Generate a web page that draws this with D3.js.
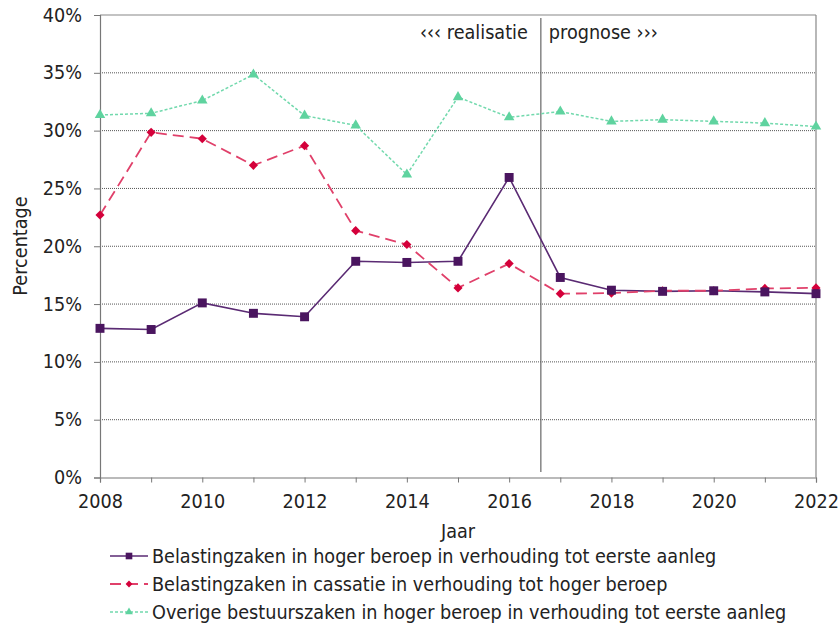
<!DOCTYPE html>
<html>
<head>
<meta charset="utf-8">
<script src="https://cdn.jsdelivr.net/npm/d3@7"></script>
<style>
  html, body { margin: 0; padding: 0; background: #fff; }
  svg text { font-family: "DejaVu Sans", sans-serif; fill: #222; }
</style>
</head>
<body>
<svg id="chart" width="840" height="624"></svg>
<script>
// Years on the x axis
const years = [2008, 2009, 2010, 2011, 2012, 2013, 2014, 2015, 2016, 2017, 2018, 2019, 2020, 2021, 2022];

// Ratios in percent
const belastingHogerBeroep = [12.9, 12.8, 15.1, 14.2, 13.9, 18.7, 18.6, 18.7, 25.95, 17.3, 16.2, 16.1, 16.15, 16.05, 15.9];
const belastingCassatie   = [22.7, 29.85, 29.3, 27.0, 28.7, 21.35, 20.15, 16.4, 18.5, 15.9, 15.95, 16.15, 16.15, 16.35, 16.4];
const overigeBestuur      = [31.35, 31.5, 32.6, 34.85, 31.3, 30.45, 26.2, 32.9, 31.15, 31.65, 30.8, 30.95, 30.8, 30.65, 30.35];

const seriesNames = [
  "Belastingzaken in hoger beroep in verhouding tot eerste aanleg",
  "Belastingzaken in cassatie in verhouding tot hoger beroep",
  "Overige bestuurszaken in hoger beroep in verhouding tot eerste aanleg"
];

const yTicks = [0, 5, 10, 15, 20, 25, 30, 35, 40];
const xTickLabels = [2008, 2010, 2012, 2014, 2016, 2018, 2020, 2022];
const splitYear = 2016.62; // boundary between realised and forecast years

const svg = d3.select("#chart");
const plotLeft = 100, plotRight = 816, plotTop = 15, plotBottom = 477.5;

const x = d3.scaleLinear().domain([2008, 2022]).range([plotLeft, plotRight]);
const y = d3.scaleLinear().domain([0, 40]).range([plotBottom, plotTop]);
const fs = 19;        // font size
const sx = 0.93;      // horizontal squeeze of the lettering

// Horizontal gridlines
svg.append("g").selectAll("line")
  .data(yTicks.filter(t => t > 0 && t < 40))
  .join("line")
  .attr("x1", plotLeft).attr("x2", plotRight)
  .attr("y1", d => y(d)).attr("y2", d => y(d))
  .attr("stroke", "#555").attr("stroke-width", 1)
  .attr("stroke-dasharray", "1,1");

// Frame: top and right borders
svg.append("line").attr("x1", plotLeft).attr("x2", plotRight).attr("y1", y(40)).attr("y2", y(40))
  .attr("stroke", "#888").attr("stroke-width", 1.2);
svg.append("line").attr("x1", plotRight).attr("x2", plotRight).attr("y1", y(40)).attr("y2", y(0))
  .attr("stroke", "#888").attr("stroke-width", 1.2);

// Y axis
const yAxis = svg.append("g").attr("transform", `translate(${plotLeft},0)`)
  .call(d3.axisLeft(y).tickValues(yTicks).tickFormat(d => d + "%").tickSize(6).tickPadding(12));
yAxis.select(".domain").attr("stroke", "#777").attr("stroke-width", 1.2);
yAxis.selectAll(".tick line").attr("stroke", "#777");
yAxis.selectAll("text").attr("font-size", fs).attr("fill", "#222")
  .attr("font-family", "DejaVu Sans, sans-serif")
  .attr("x", -18 / sx).attr("dy", "0.32em")
  .attr("transform", `scale(${sx},1)`);

// X axis
const xAxis = svg.append("g").attr("transform", `translate(0,${plotBottom})`)
  .call(d3.axisBottom(x).tickValues(years).tickFormat(d => xTickLabels.includes(d) ? d : "").tickSize(5));
xAxis.select(".domain").attr("stroke", "#777").attr("stroke-width", 1.2);
xAxis.selectAll(".tick line").attr("stroke", "#777");
xAxis.selectAll("text").attr("font-size", fs).attr("fill", "#222")
  .attr("font-family", "DejaVu Sans, sans-serif")
  .attr("y", 30.5).attr("dy", null)
  .attr("transform", `scale(${sx},1)`);

// Squeezed text helper
function label(px, py, str, anchor, rotate) {
  return svg.append("text")
    .attr("transform", `translate(${px},${py})${rotate ? " rotate(-90)" : ""} scale(${sx},1)`)
    .attr("text-anchor", anchor).attr("font-size", fs).text(str);
}

// Axis titles
label(458, 538, "Jaar", "middle");
label(27, 246, "Percentage", "middle", true);

// Realisation / forecast divider
svg.append("line").attr("x1", x(splitYear)).attr("x2", x(splitYear))
  .attr("y1", 18).attr("y2", 472).attr("stroke", "#666").attr("stroke-width", 1.2);
label(x(splitYear) - 13, 39, "‹‹‹ realisatie", "end").attr("fill", "#333");
label(x(splitYear) + 8, 39, "prognose ›››", "start").attr("fill", "#333");

// Marker shapes
const diamond = {
  draw(ctx, size) {
    const r = Math.sqrt(size / 2);
    ctx.moveTo(0, -r); ctx.lineTo(r, 0); ctx.lineTo(0, r); ctx.lineTo(-r, 0); ctx.closePath();
  }
};

// Series definitions
const series = [
  { name: seriesNames[0], values: belastingHogerBeroep, line: "#5a2a73", marker: "#4a155f", dash: null, width: 1.6, shape: d3.symbolSquare, size: 80 },
  { name: seriesNames[1], values: belastingCassatie, line: "#e0406a", marker: "#d4003a", dash: "11,6", width: 1.8, shape: diamond, size: 42 },
  { name: seriesNames[2], values: overigeBestuur, line: "#72d9ad", marker: "#5fd39f", dash: "3,2", width: 1.5, shape: d3.symbolTriangle, size: 48 }
];

const lineGen = d3.line().x((d, i) => x(years[i])).y(d => y(d));

series.forEach(s => {
  svg.append("path").datum(s.values)
    .attr("d", lineGen).attr("fill", "none")
    .attr("stroke", s.line).attr("stroke-width", s.width)
    .attr("stroke-dasharray", s.dash);
});
series.slice().reverse().forEach(s => {
  svg.append("g").selectAll("path")
    .data(s.values).join("path")
    .attr("d", d3.symbol().type(s.shape).size(s.size))
    .attr("transform", (d, i) => `translate(${x(years[i])},${y(d)})`)
    .attr("fill", s.marker);
});

// Legend
const legendRows = [556, 584, 612];
series.forEach((s, i) => {
  const ly = legendRows[i];
  svg.append("line").attr("x1", 110).attr("x2", 148).attr("y1", ly).attr("y2", ly)
    .attr("stroke", s.line).attr("stroke-width", s.width).attr("stroke-dasharray", s.dash);
  svg.append("path").attr("d", d3.symbol().type(s.shape).size(s.size * 0.55))
    .attr("transform", `translate(129,${ly})`).attr("fill", s.marker);
  label(152, ly + 7, s.name, "start");
});
</script>
</body>
</html>
